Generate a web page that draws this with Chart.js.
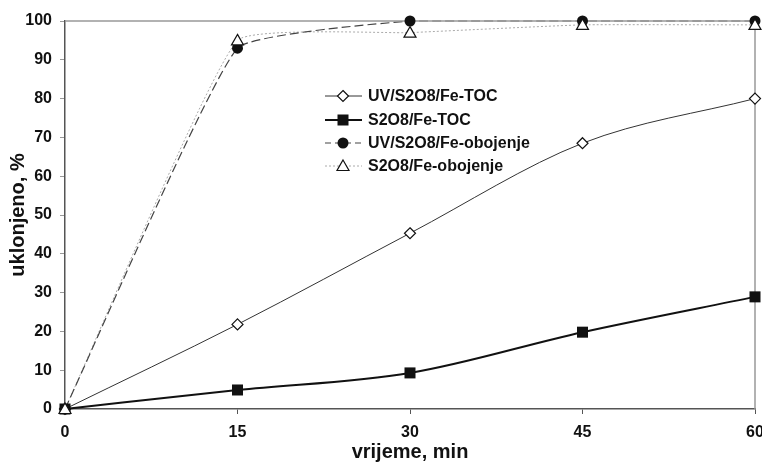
<!DOCTYPE html>
<html>
<head>
<meta charset="utf-8">
<script src="https://cdn.jsdelivr.net/npm/chart.js@4.4.0/dist/chart.umd.min.js"></script>
<style>
  html, body { margin: 0; padding: 0; background: #fff; }
  #wrap { width: 762px; height: 466px; }
</style>
</head>
<body>
<div id="wrap"><canvas id="chart" width="762" height="466"></canvas></div>
<script>
// time points (min)
const times = [0, 15, 30, 45, 60];
// removal, %
const uvTOC = [0, 21.8, 45.3, 68.5, 80];
const s2o8TOC = [0, 4.9, 9.3, 19.8, 28.9];
const uvColor = [0, 93, 100, 100, 100];
const s2o8Color = [0, 95, 97, 99, 99];
const seriesNames = ["UV/S2O8/Fe-TOC", "S2O8/Fe-TOC", "UV/S2O8/Fe-obojenje", "S2O8/Fe-obojenje"];
const yTicks = [0, 10, 20, 30, 40, 50, 60, 70, 80, 90, 100];
const xTicks = [0, 15, 30, 45, 60];

const FONT = "'Liberation Sans', Arial, sans-serif";

const toXY = (vals) => vals.map((v, i) => ({ x: times[i], y: v }));

// draws a marker like the legend / points
function drawMarker(ctx, style, x, y) {
  ctx.save();
  ctx.lineWidth = 1.2;
  ctx.strokeStyle = "#111";
  ctx.setLineDash([]);
  if (style === "diamond") {
    ctx.fillStyle = "#fff";
    ctx.beginPath();
    ctx.moveTo(x, y - 5.5); ctx.lineTo(x + 5.5, y); ctx.lineTo(x, y + 5.5); ctx.lineTo(x - 5.5, y);
    ctx.closePath(); ctx.fill(); ctx.stroke();
  } else if (style === "square") {
    ctx.fillStyle = "#111";
    ctx.fillRect(x - 5.5, y - 5.5, 11, 11);
  } else if (style === "circle") {
    ctx.fillStyle = "#111";
    ctx.beginPath(); ctx.arc(x, y, 5.5, 0, Math.PI * 2); ctx.fill();
  } else {
    ctx.fillStyle = "#fff";
    ctx.beginPath();
    ctx.moveTo(x, y - 6); ctx.lineTo(x + 6, y + 4.5); ctx.lineTo(x - 6, y + 4.5);
    ctx.closePath(); ctx.fill(); ctx.stroke();
  }
  ctx.restore();
}

const lineStyles = [
  { color: "#333", width: 1, dash: [], tension: 0, mono: true, marker: "diamond" },
  { color: "#111", width: 2, dash: [], tension: 0, mono: true, marker: "square" },
  { color: "#444", width: 1.2, dash: [9, 4], tension: 0.12, mono: false, marker: "circle" },
  { color: "#aaa", width: 1, dash: [2, 2], tension: 0.12, mono: false, marker: "triangle" }
];

// frame on top/right + legend inside plot
const extras = {
  id: "extras",
  afterDatasetsDraw(chart) {
    const { ctx, chartArea: a } = chart;
    ctx.save();
    ctx.strokeStyle = "#999";
    ctx.lineWidth = 1.5;
    ctx.beginPath();
    ctx.moveTo(a.left, a.top); ctx.lineTo(a.right, a.top); ctx.lineTo(a.right, a.bottom);
    ctx.stroke();
    ctx.restore();
    // redraw markers on top
    chart.data.datasets.forEach((ds, i) => {
      const meta = chart.getDatasetMeta(i);
      meta.data.forEach((pt) => drawMarker(ctx, lineStyles[i].marker, pt.x, pt.y));
    });
  },
  afterDraw(chart) {
    const { ctx } = chart;
    const rows = [96, 120, 143, 166];
    ctx.save();
    ctx.font = "bold 16px " + FONT;
    ctx.textBaseline = "middle";
    seriesNames.forEach((name, i) => {
      const s = lineStyles[i];
      const y = rows[i];
      ctx.save();
      ctx.strokeStyle = s.color;
      ctx.lineWidth = s.width;
      ctx.setLineDash(s.dash.length ? [6, 4] : []);
      if (i === 3) ctx.setLineDash([2, 2]);
      ctx.beginPath(); ctx.moveTo(325, y); ctx.lineTo(362, y); ctx.stroke();
      ctx.restore();
      drawMarker(ctx, s.marker, 343, y);
      ctx.fillStyle = "#111";
      ctx.fillText(name, 368, y + 1);
    });
    ctx.restore();
  }
};

const datasets = [uvTOC, s2o8TOC, uvColor, s2o8Color].map((vals, i) => ({
  label: seriesNames[i],
  data: toXY(vals),
  borderColor: lineStyles[i].color,
  borderWidth: lineStyles[i].width,
  borderDash: lineStyles[i].dash,
  pointRadius: 0,
  tension: lineStyles[i].tension,
  cubicInterpolationMode: lineStyles[i].mono ? "monotone" : "default",
  fill: false,
  clip: false
}));

new Chart(document.getElementById("chart"), {
  type: "line",
  data: { datasets },
  options: {
    responsive: false,
    animation: false,
    layout: { padding: { top: 21, right: 7, left: 0, bottom: 0 } },
    plugins: { legend: { display: false }, tooltip: { enabled: false } },
    scales: {
      x: {
        type: "linear",
        min: 0, max: 60,
        afterBuildTicks: (s) => { s.ticks = xTicks.map((v) => ({ value: v })); },
        grid: { drawOnChartArea: false, drawTicks: true, tickLength: 5, color: "#555" },
        border: { display: true, color: "#555", width: 1.5 },
        ticks: { color: "#111", font: { family: FONT, size: 16, weight: "bold" }, padding: 9, maxRotation: 0 },
        title: { display: true, text: "vrijeme, min", color: "#111", font: { family: FONT, size: 20, weight: "bold" }, padding: { top: 2, bottom: 2 } },
        afterFit: (s) => { s.height = 57; s.paddingRight = 0; s.paddingLeft = 0; }
      },
      y: {
        min: 0, max: 100,
        afterBuildTicks: (s) => { s.ticks = yTicks.map((v) => ({ value: v })); },
        grid: { drawOnChartArea: false, drawTicks: true, tickLength: 5, color: "#999" },
        border: { display: true, color: "#555", width: 1.5 },
        ticks: { color: "#111", font: { family: FONT, size: 16, weight: "bold" }, padding: 8 },
        title: { display: true, text: "uklonjeno, %", color: "#111", font: { family: FONT, size: 20, weight: "bold" }, padding: { top: 6, bottom: 0 } },
        afterFit: (s) => { s.width = 65; s.paddingTop = 0; s.paddingBottom = 0; }
      }
    }
  },
  plugins: [extras]
});
</script>
</body>
</html>
